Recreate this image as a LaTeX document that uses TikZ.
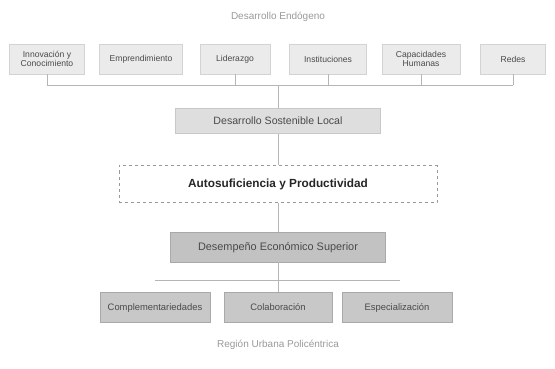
\documentclass[tikz,border=0pt]{standalone}
\usepackage{fontspec}
\setmainfont{Liberation Sans}
\usepackage{xcolor}
\usetikzlibrary{positioning, shadows}

\definecolor{boxlight}{HTML}{EBEBEB}
\definecolor{boxmid}{HTML}{DEDEDE}
\definecolor{boxdark}{HTML}{C2C2C2}
\definecolor{edgedark}{HTML}{A9A9A9}
\definecolor{linegray}{HTML}{B5B5B5}
\definecolor{textgray}{HTML}{4A4A4A}

\begin{document}
\begin{tikzpicture}[x=1pt, y=-1pt,
    % Styles
    factor/.style={
        rectangle,
        minimum height=30pt,
        align=center,
        inner sep=1pt,
        fill=boxlight,
        draw=boxlight!90!black,
        line width=0.3pt,
        text=textgray,
        font=\fontsize{8.6}{9.5}\selectfont
    },
    level/.style={
        rectangle,
        minimum width=205pt,
        minimum height=25pt,
        text height=1.6ex, text depth=0.45ex,
        align=center,
        fill=boxmid,
        draw=boxmid!90!black,
        line width=0.3pt,
        text=textgray,
        font=\fontsize{10.6}{12}\selectfont
    },
    core/.style={
        rectangle,
        minimum width=318pt,
        minimum height=37pt,
        text height=1.6ex, text depth=0.45ex,
        align=center,
        draw=gray!80,
        dashed,
        line width=0.5pt,
        text=black!85,
        font=\fontsize{11.8}{14}\selectfont\bfseries
    },
    outcome/.style={
        rectangle,
        minimum width=215pt,
        minimum height=30pt,
        text height=1.6ex, text depth=0.45ex,
        align=center,
        fill=boxdark,
        draw=edgedark,
        line width=0.6pt,
        text=textgray,
        font=\fontsize{10.9}{12}\selectfont
    },
    mode/.style={
        rectangle,
        minimum width=110pt,
        minimum height=30pt,
        text height=1.6ex, text depth=0.45ex,
        align=center,
        fill=boxdark!90!white,
        draw=edgedark,
        line width=0.6pt,
        text=textgray,
        font=\fontsize{9.4}{11}\selectfont
    },
    link/.style={
        line width=0.6pt,
        color=linegray
    },
    caption/.style={
        font=\fontsize{10}{12}\selectfont,
        text=gray!80
    }
]
\useasboundingbox (0,0) rectangle (555,369);

% Title
\node[caption] (endo) at (278,17) {Desarrollo Endógeno};

% Factors of endogenous development
\node[factor, minimum width=75pt] (innov) at (47,59) {Innovación y\\Conocimiento};
\node[factor, minimum width=83pt] (empr) at (141,59) {Emprendimiento};
\node[factor, minimum width=70pt] (lider) at (235,59) {Liderazgo};
\node[factor, minimum width=77pt] (inst) at (328,59) {Instituciones};
\node[factor, minimum width=78pt] (capac) at (421,59) {Capacidades\\Humanas};
\node[factor, minimum width=65pt] (redes) at (513,59) {Redes};

% Bus line
\coordinate (bus) at (278,85);
\foreach \f in {innov, lider, inst, capac, redes}
    \draw[link] (\f.south) -- (\f.south |- bus);
\draw[link] (innov.south |- bus) -- (redes.south |- bus);

% Central chain
\node[level] (dsl) at (278,121) {Desarrollo Sostenible Local};
\node[core] (auto) at (278,184) {Autosuficiencia y Productividad};
\node[outcome] (des) at (278,247) {Desempeño Económico Superior};

\draw[link] (bus) -- (dsl.north);
\draw[link] (dsl.south) -- (auto.north);
\draw[link] (auto.south) -- (des.north);

% Polycentric region
\node[mode] (compl) at (155,307) {Complementariedades};
\node[mode, minimum width=108pt] (colab) at (278,307) {Colaboración};
\node[mode] (espec) at (397,307) {Especialización};

\coordinate (splitL) at (155,280);
\coordinate (splitR) at (400,280);
\draw[link] (splitL) -- (splitR);
\draw[link] (des.south) -- (colab.north);

\node[caption] (region) at (278,345) {Región Urbana Policéntrica};

\end{tikzpicture}
\end{document}
